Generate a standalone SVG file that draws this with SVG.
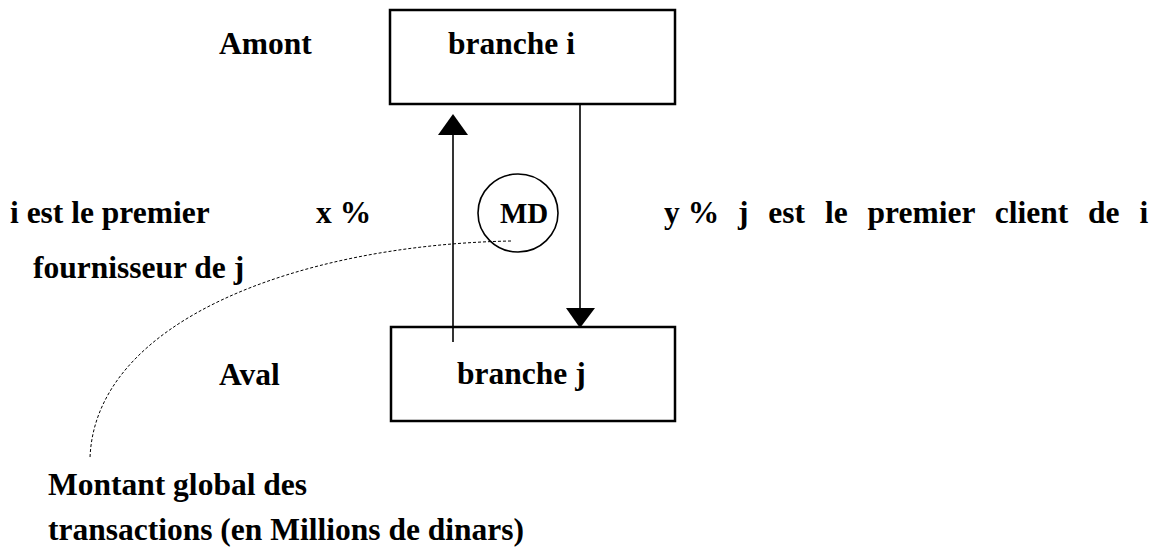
<svg xmlns="http://www.w3.org/2000/svg" width="1157" height="555" viewBox="0 0 1157 555">
  <style>
    .t { font-family: "Liberation Serif", "Times New Roman", serif; font-weight: bold; font-size: 31.5px; fill: #000; }
    .box { fill: #fff; stroke: #000; stroke-width: 2.5; }
    .link { fill: none; stroke: #000; stroke-width: 1.6; }
    .dash { fill: none; stroke: #000; stroke-width: 1; stroke-dasharray: 3 2; }
  </style>
  <rect width="1157" height="555" fill="#fff"/>

  <!-- upstream branch -->
  <g id="branche-i">
    <rect class="box" x="390" y="10" width="285" height="94"/>
    <text class="t" x="448" y="54">branche i</text>
  </g>
  <g id="label-amont">
    <text class="t" x="219" y="54">Amont</text>
  </g>

  <!-- downstream branch -->
  <g id="branche-j">
    <rect class="box" x="391" y="327" width="284" height="94"/>
    <text class="t" x="457" y="384">branche j</text>
  </g>
  <g id="label-aval">
    <text class="t" x="219" y="385">Aval</text>
  </g>

  <!-- amount of transactions -->
  <g id="md">
    <ellipse cx="518" cy="213" rx="40" ry="39" fill="none" stroke="#000" stroke-width="1.6"/>
    <text class="t" x="500" y="223" style="font-size:29px">MD</text>
  </g>

  <g id="label-x">
    <text class="t" x="10" y="223">i est le premier</text>
    <text class="t" x="33" y="278">fournisseur de j</text>
    <text class="t" x="316" y="223">x %</text>
  </g>

  <g id="label-y">
    <text class="t" x="664" y="223">y %</text>
    <text class="t" x="738" y="223" style="word-spacing:12px">j est le premier client de i</text>
  </g>

  <g id="legende">
    <text class="t" x="48" y="495">Montant global des</text>
    <text class="t" x="48" y="540">transactions (en Millions de dinars)</text>
  </g>

  <!-- flows between the two branches -->
  <g id="connectors">
    <line class="link" x1="453" y1="342" x2="453" y2="133"/>
    <polygon points="438,135 468,135 453,114" fill="#000"/>
    <line class="link" x1="580" y1="104" x2="580" y2="310"/>
    <polygon points="566,308 595,308 580,328" fill="#000"/>
    <path class="dash" d="M511 241 C300 245 95 320 90 458"/>
  </g>
</svg>
